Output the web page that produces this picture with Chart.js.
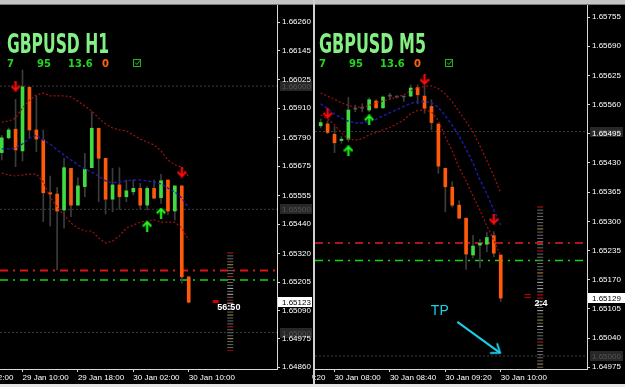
<!DOCTYPE html>
<html><head><meta charset="utf-8">
<script src="https://cdn.jsdelivr.net/npm/chart.js@4.4.1/dist/chart.umd.min.js"></script>
<style>
html,body{margin:0;padding:0;background:#000;width:625px;height:387px;overflow:hidden;position:relative;}
canvas{position:absolute;top:0;}
#c1{left:0;}
#c2{left:312px;}
#topbar{position:absolute;left:0;top:0;width:625px;height:4px;background:#c4c4c4;border-bottom:1px solid #7a7a7a;}
#sep{position:absolute;left:313px;top:0;width:2px;height:384px;background:#d0d0d0;}
#botbar{position:absolute;left:0;top:384px;width:625px;height:3px;background:#e4e4e4;}
</style></head><body>
<canvas id="c1" width="312" height="384"></canvas>
<canvas id="c2" width="313" height="384"></canvas>
<div id="topbar"></div><div id="sep"></div><div id="botbar"></div>
<script>
// ---------- GBPUSD H1 ----------
const H1_OPEN  = [1.65730,1.65790,1.65825,1.65737,1.65995,1.65822,1.65781,1.65567,1.65562,1.65497,1.65666,1.65517,1.65592,1.65669,1.65829,1.65707,1.65541,1.65599,1.65551,1.65571,1.65585,1.65517,1.65585,1.65547,1.65619,1.65493,1.65595,1.65226];
const H1_HIGH  = [1.65800,1.65830,1.65946,1.66065,1.65997,1.65960,1.65822,1.65635,1.65589,1.65707,1.65666,1.65628,1.65727,1.65896,1.65829,1.65707,1.65666,1.65669,1.65619,1.65619,1.65605,1.65592,1.65619,1.65642,1.65619,1.65595,1.65595,1.65226];
const H1_LOW   = [1.65700,1.65785,1.65673,1.65696,1.65789,1.65734,1.65450,1.65432,1.65254,1.65423,1.65470,1.65517,1.65551,1.65669,1.65531,1.65481,1.65490,1.65500,1.65531,1.65558,1.65500,1.65497,1.65545,1.65524,1.65477,1.65457,1.65200,1.65120];
const H1_CLOSE = [1.65790,1.65822,1.65741,1.65997,1.65822,1.65785,1.65567,1.65562,1.65493,1.65669,1.65517,1.65595,1.65662,1.65829,1.65707,1.65541,1.65599,1.65551,1.65575,1.65585,1.65517,1.65585,1.65545,1.65616,1.65493,1.65595,1.65226,1.65123];
const H1_MID   = [1.65745,1.65745,1.65749,1.65765,1.65789,1.65801,1.65781,1.65765,1.65741,1.65720,1.65700,1.65680,1.65664,1.65651,1.65635,1.65615,1.65607,1.65611,1.65615,1.65619,1.65619,1.65615,1.65611,1.65603,1.65586,1.65570,1.65546,1.65505];
const H1_UPPER = [1.65854,1.65858,1.65870,1.65911,1.65943,1.65964,1.65972,1.65960,1.65960,1.65960,1.65956,1.65939,1.65919,1.65899,1.65870,1.65846,1.65830,1.65822,1.65818,1.65801,1.65785,1.65773,1.65761,1.65737,1.65700,1.65680,1.65672,1.65631];
const H1_LOWER = [1.65647,1.65639,1.65635,1.65639,1.65643,1.65643,1.65611,1.65550,1.65509,1.65477,1.65444,1.65424,1.65412,1.65412,1.65384,1.65363,1.65371,1.65392,1.65424,1.65436,1.65448,1.65453,1.65457,1.65448,1.65448,1.65448,1.65424,1.65375];
const H1_X_TICKS  = [-5, 3, 11, 19, 27];
const H1_X_LABELS = ['29 Jan 02:00','29 Jan 10:00','29 Jan 18:00','30 Jan 02:00','30 Jan 10:00'];
const H1_Y_TICKS  = [1.66260,1.66145,1.66025,1.65910,1.65790,1.65675,1.65555,1.65440,1.65320,1.65205,1.65090,1.64975,1.64860];
const H1_ROUND    = [1.66000,1.65500,1.65000];
const H1_DOWN_X = [2, 26],  H1_DOWN_Y = [1.66000, 1.65651];
const H1_UP_X   = [21, 23], H1_UP_Y   = [1.65432, 1.65485];
const H1_TIMER_X = 33;
const H1_TIMER_LEVELS = [1.65323,1.65311,1.65299,1.65287,1.65275,1.65263,1.65251,1.65239,1.65227,1.65215,1.65203,1.65191,1.65179,1.65167,1.65155,1.65143,1.65131,1.65119,1.65107,1.65095,1.65083,1.65071,1.65059,1.65047,1.65035,1.65023,1.65011,1.64999,1.64987,1.64975,1.64963,1.64951,1.64939,1.64927];
const H1_TIMER_COLORS = 'rgggygggrgggwgwgrwgwgygggrgggygggR'.split('');
const H1_MARK_X = [30.9], H1_MARK_Y = [1.65126];
const H1_NOTE_TEXT = ['56:50'], H1_NOTE_X = [32.8], H1_NOTE_Y = [1.65101];

// ---------- GBPUSD M5 ----------
const M5_OPEN  = [1.65513,1.65517,1.65494,1.65480,1.65483,1.65550,1.65552,1.65548,1.65568,1.65553,1.65579,1.65577,1.65577,1.65579,1.65598,1.65579,1.65556,1.65517,1.65418,1.65376,1.65336,1.65307,1.65225,1.65247,1.65249,1.65268,1.65225];
const M5_HIGH  = [1.65528,1.65524,1.65511,1.65489,1.65576,1.65559,1.65562,1.65575,1.65571,1.65579,1.65585,1.65579,1.65577,1.65604,1.65604,1.65604,1.65571,1.65517,1.65419,1.65388,1.65346,1.65307,1.65269,1.65260,1.65275,1.65277,1.65225];
const M5_LOW   = [1.65508,1.65495,1.65453,1.65474,1.65478,1.65544,1.65544,1.65544,1.65551,1.65551,1.65572,1.65575,1.65567,1.65578,1.65562,1.65541,1.65504,1.65407,1.65321,1.65332,1.65307,1.65193,1.65218,1.65197,1.65232,1.65221,1.65121];
const M5_CLOSE = [1.65520,1.65498,1.65475,1.65483,1.65548,1.65550,1.65552,1.65571,1.65553,1.65577,1.65579,1.65577,1.65577,1.65597,1.65582,1.65552,1.65520,1.65423,1.65377,1.65336,1.65307,1.65227,1.65245,1.65251,1.65264,1.65229,1.65129];
const M5_MID   = [1.65562,1.65551,1.65539,1.65530,1.65523,1.65519,1.65519,1.65523,1.65527,1.65535,1.65542,1.65549,1.65556,1.65563,1.65566,1.65567,1.65564,1.65554,1.65535,1.65514,1.65490,1.65461,1.65430,1.65392,1.65361,1.65325,1.65292];
const M5_UPPER = [1.65586,1.65579,1.65572,1.65564,1.65558,1.65555,1.65554,1.65558,1.65564,1.65568,1.65572,1.65577,1.65582,1.65591,1.65597,1.65601,1.65602,1.65596,1.65584,1.65566,1.65544,1.65522,1.65499,1.65468,1.65435,1.65401,1.65363];
const M5_LOWER = [1.65537,1.65528,1.65515,1.65497,1.65484,1.65481,1.65484,1.65493,1.65498,1.65504,1.65509,1.65517,1.65526,1.65540,1.65547,1.65548,1.65544,1.65524,1.65488,1.65457,1.65419,1.65390,1.65356,1.65325,1.65290,1.65258,1.65223];
const M5_X_TICKS  = [-6, 2, 10, 18, 26];
const M5_X_LABELS = ['30 Jan 07:20','30 Jan 08:00','30 Jan 08:40','30 Jan 09:20','30 Jan 10:00'];
const M5_Y_TICKS  = [1.65755,1.65690,1.65625,1.65560,1.65495,1.65430,1.65365,1.65300,1.65235,1.65170,1.65105,1.65040,1.64975];
const M5_ROUND    = [1.65500,1.65000];
const M5_DOWN_X = [1, 15, 25], M5_DOWN_Y = [1.65541, 1.65616, 1.65305];
const M5_UP_X   = [4, 7],      M5_UP_Y   = [1.65457, 1.65526];
const M5_TIMER_X = 31.7;
const M5_TIMER_LEVELS = [1.65332,1.65325,1.65318,1.65311,1.65304,1.65297,1.65290,1.65283,1.65276,1.65269,1.65262,1.65255,1.65248,1.65241,1.65234,1.65227,1.65220,1.65213,1.65206,1.65199,1.65192,1.65185,1.65178,1.65171,1.65164,1.65157,1.65150,1.65143,1.65136,1.65129,1.65122,1.65115,1.65108,1.65101,1.65094,1.65087,1.65080,1.65073,1.65066,1.65059,1.65052,1.65045,1.65038,1.65031,1.65024,1.65017,1.65010,1.65003,1.64996,1.64989,1.64982,1.64975];
const M5_TIMER_COLORS = 'rggggggyggggggrggggggyggwgwgrrgwgwggygwggggrggggggyg'.split('');
const M5_MARK_X = [29.9, 29.9], M5_MARK_Y = [1.65137, 1.65130];
const M5_NOTE_TEXT = ['2:4', 'TP'], M5_NOTE_X = [31.8, 17.2], M5_NOTE_Y = [1.65116, 1.65100];
const M5_TP_X = [19.74, 25.9], M5_TP_Y = [1.65076, 1.65007];

// shared
const SIGNAL_RED = 1.65252, SIGNAL_GREEN = 1.65213;
const INFO_TEXT = ['7', '95', '13.6', '0'];
const INFO_COLORS = ['#22d622', '#22d622', '#22d622', '#ff6414'];
const INFO_OFFSETS = [0, 30, 61, 95];

const GREEN = '#3fdc3f', ORANGE = '#ff5a0a', DOJI = '#5a5a5a', WICK = '#3c3c3c';
const TC = {r:'#d41010', R:'#9a0000', g:'#6c6c6c', w:'#b8b8b8', y:'#b8962e'};
const FONT = '"Liberation Sans", Arial, sans-serif';

function arrowCanvas(color, edge, up) {
  const c = document.createElement('canvas'); c.width = 10; c.height = 11;
  const g = c.getContext('2d');
  const path = () => {
    g.beginPath();
    if (up) { g.moveTo(5, 10.5); g.lineTo(5, 1.5); g.moveTo(1.5, 5); g.lineTo(5, 1.5); g.lineTo(8.5, 5); }
    else { g.moveTo(5, 0.5); g.lineTo(5, 9.5); g.moveTo(1.5, 6); g.lineTo(5, 9.5); g.lineTo(8.5, 6); }
  };
  g.lineCap = 'square';
  g.strokeStyle = edge; g.lineWidth = 3; path(); g.stroke();
  g.strokeStyle = color; g.lineWidth = 1.6; path(); g.stroke();
  return c;
}
function headCanvas(color) {
  const c = document.createElement('canvas'); c.width = 18; c.height = 18;
  const g = c.getContext('2d');
  g.strokeStyle = color; g.lineWidth = 2;
  g.beginPath(); g.moveTo(1, 3); g.lineTo(9, 9); g.lineTo(1, 15); g.stroke();
  return c;
}
const DOWN_ARROW = arrowCanvas('#ff1010', '#700000', false);
const UP_ARROW = arrowCanvas('#22ff22', '#006000', true);
const TP_HEAD = headCanvas('#1ad0e6');

function makeChart(id, P) {
  const idx = P.open.map((_, i) => i);
  const col = i => P.close[i] > P.open[i] ? GREEN : (P.close[i] < P.open[i] ? ORANGE : DOJI);
  const hline = (v, color, w, dash, order) => ({type:'line', data:[{x:P.xMin, y:v},{x:P.xMax, y:v}],
    borderColor:color, borderWidth:w, borderDash:dash, pointRadius:0, order});
  const series = (arr, color, dash, w) => ({type:'line', data: arr.map((v, i) => ({x:i, y:v})),
    borderColor:color, borderWidth:w, borderDash:dash, pointRadius:0, tension:0, order:3});
  const datasets = [
    ...P.round.map(v => hline(v, '#3e3e3e', 1, [2, 2], 20)),
    hline(SIGNAL_RED, P.redColor, 2, [8, 5, 2, 5], 19),
    hline(SIGNAL_GREEN, '#12d812', 1.5, [8, 5, 2, 5], 18),
    {type:'bar', data: idx.map(i => ({x:i, y:[P.low[i], P.high[i]]})), backgroundColor: WICK,
      barThickness:1, grouped:false, order:10},
    {type:'bar', data: idx.map(i => ({x:i, y:[P.open[i], P.close[i]]})), backgroundColor: idx.map(col),
      barThickness:3, minBarLength:1, grouped:false, order:9},
    series(P.upper, '#a01212', [2, 2], 1.2),
    series(P.lower, '#a01212', [2, 2], 1.2),
    series(P.mid, '#1c1ca8', [3, 2], 1.4),
    {type:'scatter', data: P.downX.map((x, i) => ({x, y:P.downY[i]})), pointStyle: DOWN_ARROW, pointRadius:5, order:1},
    {type:'scatter', data: P.upX.map((x, i) => ({x, y:P.upY[i]})), pointStyle: UP_ARROW, pointRadius:5, order:1},
    {type:'scatter', data: P.timerLevels.map(v => ({x:P.timerX, y:v})), pointStyle:'line', pointRadius:3,
      pointBorderWidth:1, pointBorderColor: P.timerColors.map(c => TC[c]), order:2},
    {type:'scatter', data: P.markX.map((x, i) => ({x, y:P.markY[i]})), pointStyle:'line', pointRadius:3,
      pointBorderWidth:P.markW, pointBorderColor:'#c80000', order:2}
  ];
  if (P.tpX) {
    datasets.push({type:'line', data: P.tpX.map((x, i) => ({x, y:P.tpY[i]})), borderColor:'#1ad0e6',
      borderWidth:2, pointRadius:0, order:0});
    datasets.push({type:'scatter', data:[{x:P.tpX[1], y:P.tpY[1]}], pointStyle: TP_HEAD, pointRadius:6,
      pointRotation: (c) => {
        const xs = c.chart.scales.x, ys = c.chart.scales.y;
        const dx = xs.getPixelForValue(P.tpX[1]) - xs.getPixelForValue(P.tpX[0]);
        const dy = ys.getPixelForValue(P.tpY[1]) - ys.getPixelForValue(P.tpY[0]);
        return Math.atan2(dy, dx) * 180 / Math.PI;
      }, order:0});
  }

  const plugin = {
    id: 'mt' + id,
    beforeDraw(chart) {
      const ctx = chart.ctx, ys = chart.scales.y, a = chart.chartArea;
      ctx.save();
      ctx.fillStyle = '#000'; ctx.fillRect(0, 0, chart.width, chart.height);
      ctx.font = '8px ' + FONT; ctx.textBaseline = 'middle'; ctx.textAlign = 'left';
      P.round.forEach(v => {
        const y = Math.round(ys.getPixelForValue(v));
        ctx.fillStyle = '#282828'; ctx.fillRect(a.right + 3, y - 5, 33, 10);
        ctx.fillStyle = '#545454'; ctx.fillText(v.toFixed(5), a.right + 5, y + 0.5);
      });
      ctx.restore();
    },
    afterDraw(chart) {
      const ctx = chart.ctx, xs = chart.scales.x, ys = chart.scales.y, a = chart.chartArea;
      ctx.save();
      ctx.textAlign = 'left'; ctx.textBaseline = 'alphabetic';
      ctx.fillStyle = '#84f084';
      ctx.font = 'bold 27px "DejaVu Sans", "Liberation Sans", sans-serif';
      ctx.fillText(P.title, 7, 53, P.titleW);
      ctx.font = 'bold 10px "DejaVu Sans", sans-serif';
      INFO_TEXT.forEach((t, k) => { ctx.fillStyle = INFO_COLORS[k]; ctx.fillText(t, 7 + INFO_OFFSETS[k], 67); });
      // check box icon
      ctx.strokeStyle = '#1fb81f'; ctx.lineWidth = 1;
      ctx.strokeRect(7 + 126.5, 59.5, 7, 7);
      ctx.beginPath(); ctx.moveTo(7 + 128, 62.5); ctx.lineTo(7 + 130, 64.5); ctx.lineTo(7 + 133, 60.5); ctx.stroke();
      // current price box
      const last = P.close[P.close.length - 1];
      const y = Math.round(ys.getPixelForValue(last));
      ctx.fillStyle = '#fff'; ctx.fillRect(a.right + 1, y - 5, chart.width - a.right - 1, 10);
      ctx.fillStyle = '#000'; ctx.font = '8px ' + FONT; ctx.textBaseline = 'middle';
      ctx.fillText(last.toFixed(5), a.right + 5, y + 0.5);
      // notes
      P.noteText.forEach((t, k) => {
        const px = xs.getPixelForValue(P.noteX[k]), py = ys.getPixelForValue(P.noteY[k]);
        ctx.textAlign = 'center'; ctx.textBaseline = 'middle';
        if (t === 'TP') { ctx.font = '14px ' + FONT; ctx.fillStyle = '#1ad0e6'; }
        else { ctx.font = 'bold 9px ' + FONT; ctx.fillStyle = '#ffffff'; }
        ctx.fillText(t, px, py);
      });
      ctx.restore();
    }
  };

  return new Chart(document.getElementById(id), {
    type: 'bar',
    data: { datasets },
    options: {
      responsive: false, animation: false, devicePixelRatio: 1, events: [],
      layout: { autoPadding: false, padding: { left: P.padLeft, top: 5, right: 0, bottom: 0 } },
      plugins: { legend: { display: false }, tooltip: { enabled: false } },
      scales: {
        x: {
          type: 'linear', min: P.xMin, max: P.xMax, offset: false,
          grid: { display: true, drawOnChartArea: false, drawTicks: true, tickLength: 3, color: '#d8d8d8', offset: false },
          border: { display: true, color: '#d8d8d8' },
          afterBuildTicks: s => { s.ticks = P.xTicks.map(v => ({ value: v })); },
          afterFit: s => { s.height = 15; s.paddingLeft = 0; s.paddingRight = 0; },
          ticks: { autoSkip: false, maxRotation: 0, minRotation: 0, align: 'start', color: '#ffffff', padding: 1,
                   font: { size: 8, family: FONT }, callback: (v, i) => P.xLabels[i] }
        },
        y: {
          position: 'right', min: P.yMin, max: P.yMax,
          grid: { display: true, drawOnChartArea: false, drawTicks: true, tickLength: 3, color: '#d8d8d8' },
          border: { display: true, color: '#d8d8d8' },
          afterBuildTicks: s => { s.ticks = P.yTicks.map(v => ({ value: v })); },
          afterFit: s => { s.width = P.yWidth; s.paddingTop = 0; s.paddingBottom = 0; },
          ticks: { color: '#ffffff', padding: 2, font: { size: 8, family: FONT }, callback: v => Number(v).toFixed(5) }
        }
      }
    },
    plugins: [plugin]
  });
}

makeChart('c1', {
  title: 'GBPUSD H1', titleW: 102, padLeft: 0, yWidth: 35,
  open: H1_OPEN, high: H1_HIGH, low: H1_LOW, close: H1_CLOSE,
  mid: H1_MID, upper: H1_UPPER, lower: H1_LOWER,
  xMin: -0.25, xMax: 39.75, yMin: 1.64852, yMax: 1.66329,
  xTicks: H1_X_TICKS, xLabels: H1_X_LABELS, yTicks: H1_Y_TICKS, round: H1_ROUND,
  redColor: '#e01414',
  downX: H1_DOWN_X, downY: H1_DOWN_Y, upX: H1_UP_X, upY: H1_UP_Y,
  timerX: H1_TIMER_X, timerLevels: H1_TIMER_LEVELS, timerColors: H1_TIMER_COLORS,
  markX: H1_MARK_X, markY: H1_MARK_Y, markW: 3,
  noteText: H1_NOTE_TEXT, noteX: H1_NOTE_X, noteY: H1_NOTE_Y
});
makeChart('c2', {
  title: 'GBPUSD M5', titleW: 107, padLeft: 3, yWidth: 38,
  open: M5_OPEN, high: M5_HIGH, low: M5_LOW, close: M5_CLOSE,
  mid: M5_MID, upper: M5_UPPER, lower: M5_LOWER,
  xMin: -0.82, xMax: 38.46, yMin: 1.64971, yMax: 1.65782,
  xTicks: M5_X_TICKS, xLabels: M5_X_LABELS, yTicks: M5_Y_TICKS, round: M5_ROUND,
  redColor: '#b01414',
  downX: M5_DOWN_X, downY: M5_DOWN_Y, upX: M5_UP_X, upY: M5_UP_Y,
  timerX: M5_TIMER_X, timerLevels: M5_TIMER_LEVELS, timerColors: M5_TIMER_COLORS,
  markX: M5_MARK_X, markY: M5_MARK_Y, markW: 1,
  noteText: M5_NOTE_TEXT, noteX: M5_NOTE_X, noteY: M5_NOTE_Y,
  tpX: M5_TP_X, tpY: M5_TP_Y
});
</script>
</body></html>
